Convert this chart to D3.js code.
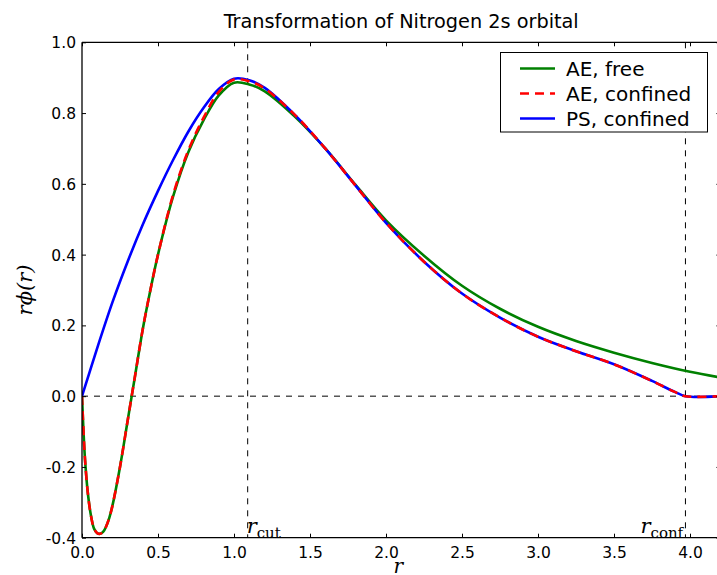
<!DOCTYPE html>
<html><head><meta charset="utf-8">
<script src="https://cdn.jsdelivr.net/npm/d3@7"></script>
<style>body{margin:0;background:#fff}svg{display:block}</style>
</head><body><svg id="c" width="717" height="575"></svg>
<script>
const title = "Transformation of Nitrogen 2s orbital";
const xTicks = [0.0,0.5,1.0,1.5,2.0,2.5,3.0,3.5,4.0];
const yTicks = [-0.4,-0.2,0.0,0.2,0.4,0.6,0.8,1.0];
const rCut = 1.09, rConf = 3.97;
const seriesNames = ["AE, free","AE, confined","PS, confined"];
const seriesColors = ["#008000","#ff0000","#0000ff"];

const rAEfree = [0,0.01,0.02,0.04,0.06,0.08,0.10,0.12,0.14,0.16,0.18,0.20,0.25,0.30,0.35,0.40,0.45,0.50,0.60,0.70,0.80,0.90,1.00,1.10,1.20,1.40,1.60,1.80,2.00,2.25,2.50,2.75,3.00,3.25,3.50,3.75,4.00,4.20];
const vAEfree = [0,-0.10,-0.18,-0.28,-0.34,-0.375,-0.387,-0.389,-0.383,-0.367,-0.343,-0.31,-0.20,-0.07,0.06,0.19,0.30,0.40,0.565,0.69,0.78,0.85,0.886,0.881,0.862,0.79,0.70,0.597,0.497,0.397,0.312,0.247,0.196,0.156,0.123,0.094,0.069,0.053];

const rAEconf = [0,0.01,0.02,0.04,0.06,0.08,0.10,0.12,0.14,0.16,0.18,0.20,0.25,0.30,0.35,0.40,0.45,0.50,0.60,0.70,0.80,0.90,1.00,1.10,1.20,1.40,1.60,1.80,2.00,2.25,2.50,2.75,3.00,3.25,3.50,3.75,3.90,3.97,4.20];
const vAEconf = [0,-0.10,-0.18,-0.28,-0.34,-0.375,-0.387,-0.389,-0.383,-0.367,-0.343,-0.31,-0.20,-0.07,0.06,0.19,0.30,0.40,0.57,0.695,0.787,0.86,0.895,0.89,0.87,0.795,0.70,0.595,0.49,0.38,0.29,0.222,0.168,0.127,0.09,0.043,0.012,0,0];

const rPSconf = [0,0.05,0.10,0.20,0.30,0.40,0.50,0.60,0.70,0.80,0.90,1.00,1.10,1.20,1.40,1.60,1.80,2.00,2.25,2.50,2.75,3.00,3.25,3.50,3.75,3.90,3.97,4.20];
const vPSconf = [0,0.068,0.136,0.265,0.38,0.485,0.58,0.668,0.748,0.815,0.868,0.897,0.893,0.872,0.795,0.70,0.595,0.49,0.38,0.29,0.222,0.168,0.127,0.09,0.043,0.012,0,0];

const svg = d3.select("#c");
const L=82, R=720.4, T=42.3, B=537.7;
const x = d3.scaleLinear().domain([0,4.2]).range([L,R]);
const y = d3.scaleLinear().domain([-0.4,1.0]).range([B,T]);
const font = "'DejaVu Sans', sans-serif";

svg.append("defs").append("clipPath").attr("id","clip").append("rect")
  .attr("x",L).attr("y",T).attr("width",R-L).attr("height",B-T);

const g = svg.append("g").attr("clip-path","url(#clip)");
g.append("line").attr("x1",L).attr("x2",R).attr("y1",y(0)).attr("y2",y(0))
  .attr("stroke","#000").attr("stroke-width",1).attr("stroke-dasharray","6,6");
[rCut,rConf].forEach(v=>{
  g.append("line").attr("x1",x(v)).attr("x2",x(v)).attr("y1",T).attr("y2",B)
   .attr("stroke","#000").attr("stroke-width",1).attr("stroke-dasharray","6,6");
});

const line = d3.line().x(d=>x(d[0])).y(d=>y(d[1])).curve(d3.curveCatmullRom.alpha(0.5));
const data = [
  d3.zip(rAEfree,vAEfree),
  d3.zip(rAEconf,vAEconf),
  d3.zip(rPSconf,vPSconf)
];
[0,2,1].forEach(i=>{
  const p = g.append("path").datum(data[i]).attr("d",line).attr("fill","none")
    .attr("stroke",seriesColors[i]).attr("stroke-width",2.6);
  if(i===1) p.attr("stroke-dasharray","9,6");
});

// axes frame
[[L,T,L,B],[L,T,R,T],[L,B,R,B],[R,T,R,B]].forEach(c=>{
  svg.append("line").attr("x1",c[0]).attr("y1",c[1]).attr("x2",c[2]).attr("y2",c[3])
    .attr("stroke","#000").attr("stroke-width",1.3);
});

// ticks
const xb = svg.append("g").attr("transform",`translate(0,${B})`)
  .call(d3.axisBottom(x).tickValues(xTicks).tickSizeInner(-4).tickSizeOuter(0).tickPadding(9).tickFormat(d3.format(".1f")));
const xt = svg.append("g").attr("transform",`translate(0,${T})`)
  .call(d3.axisTop(x).tickValues(xTicks).tickSizeInner(-4).tickSizeOuter(0).tickFormat(""));
const yl = svg.append("g").attr("transform",`translate(${L},0)`)
  .call(d3.axisLeft(y).tickValues(yTicks).tickSizeInner(-4).tickSizeOuter(0).tickPadding(6).tickFormat(d=>d3.format(".1f")(d).replace("−","-")));
const yr = svg.append("g").attr("transform",`translate(${R},0)`)
  .call(d3.axisRight(y).tickValues(yTicks).tickSizeInner(-4).tickSizeOuter(0).tickFormat(""));
[xb,xt,yl,yr].forEach(a=>{a.select(".domain").remove();
  a.selectAll("text").attr("font-family",font).attr("font-size",15.5).attr("fill","#000");
  a.selectAll("line").attr("stroke","#000");});
xb.selectAll("text").attr("dy","0.71em");
yl.selectAll("text").attr("dy","0.36em");

// title
svg.append("text").attr("x",(L+R)/2).attr("y",28).attr("text-anchor","middle")
  .attr("font-family",font).attr("font-size",19.3).text(title);

// axis labels
svg.append("text").attr("x",(L+R)/2 - 3).attr("y",573).attr("text-anchor","middle")
  .attr("font-family","'DejaVu Serif', serif").attr("font-style","italic").attr("font-size",20).text("r");
svg.append("text").attr("transform",`translate(32,${(T+B)/2}) rotate(-90)`).attr("text-anchor","middle")
  .attr("font-family","'DejaVu Serif', serif").attr("font-style","italic").attr("font-size",21).text("rϕ(r)");

// annotations
function ann(xv, dx, sub){
  const t = svg.append("text").attr("x",x(xv)+dx).attr("y",533)
    .attr("font-family","'DejaVu Serif', serif").attr("font-size",21);
  t.append("tspan").attr("font-style","italic").text("r");
  t.append("tspan").attr("font-size",15).attr("dy",5).text(sub);
}
ann(rCut,-1,"cut");
ann(rConf,-45,"conf");

// legend
const lg = svg.append("g");
lg.append("rect").attr("x",500.5).attr("y",52.5).attr("width",207).attr("height",79.5)
  .attr("fill","#fff").attr("stroke","#000").attr("stroke-width",1);
seriesNames.forEach((n,i)=>{
  const yy = 68.5 + i*25;
  const l = lg.append("line").attr("x1",520).attr("x2",555).attr("y1",yy).attr("y2",yy)
    .attr("stroke",seriesColors[i]).attr("stroke-width",2.6);
  if(i===1) l.attr("stroke-dasharray","9,6");
  lg.append("text").attr("x",566).attr("y",yy).attr("dy","0.36em")
    .attr("font-family",font).attr("font-size",20).text(n);
});
</script></body></html>
